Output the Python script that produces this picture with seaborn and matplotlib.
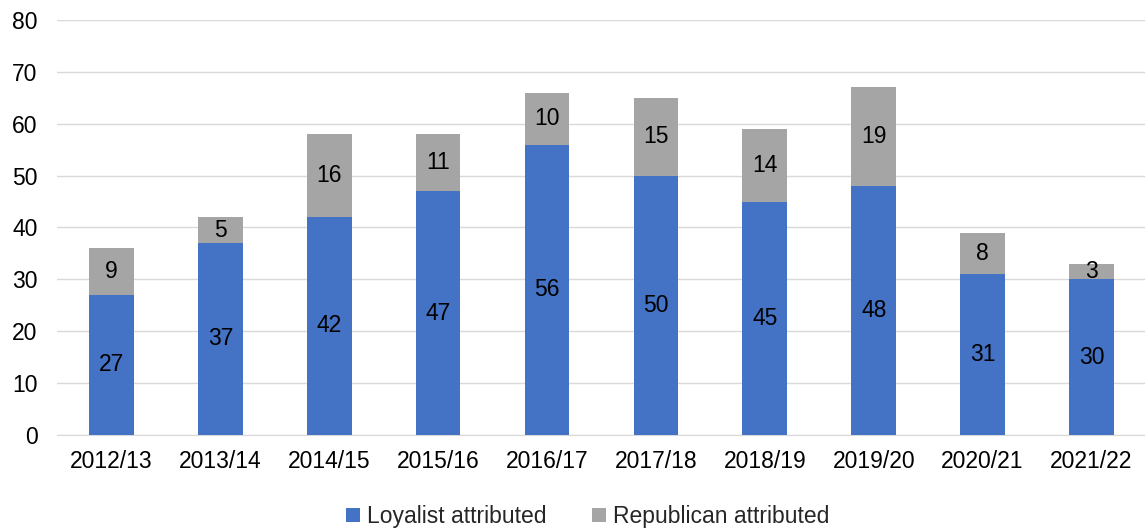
import numpy as np
import pandas as pd
import matplotlib
matplotlib.use("Agg")
import matplotlib.pyplot as plt
import seaborn as sns

years = ["2012/13", "2013/14", "2014/15", "2015/16", "2016/17",
         "2017/18", "2018/19", "2019/20", "2020/21", "2021/22"]
loyalist = [27, 37, 42, 47, 56, 50, 45, 48, 31, 30]
republican = [9, 5, 16, 11, 10, 15, 14, 19, 8, 3]

blue = "#4472C4"
grey = "#A5A5A5"

df = pd.DataFrame({"year": years, "loyalist": loyalist, "republican": republican})
df["total"] = df["loyalist"] + df["republican"]

sns.set_style("white")
plt.rcParams["font.family"] = ["Liberation Sans", "DejaVu Sans"]
fs = 16.5

fig = plt.figure(figsize=(11.45, 5.29), dpi=100)
ax = fig.add_axes([0.0498, 0.178, 0.951, 0.784])

sns.barplot(data=df, x="year", y="total", color=grey, width=0.41,
            saturation=1, ax=ax, label="Republican attributed", zorder=2,
            linewidth=0)
sns.barplot(data=df, x="year", y="loyalist", color=blue, width=0.41,
            saturation=1, ax=ax, label="Loyalist attributed", zorder=3,
            linewidth=0)

grey_bars = ax.containers[0]
blue_bars = ax.containers[1]
ax.bar_label(blue_bars, labels=[str(v) for v in loyalist], label_type="center",
             fontsize=fs, color="black")
for rect, r, l in zip(grey_bars, republican, loyalist):
    ax.text(rect.get_x() + rect.get_width() / 2, l + r / 2, str(r),
            ha="center", va="center", fontsize=fs, color="black", zorder=4)

ax.set_ylim(0, 80)
ax.set_xlim(-0.5, 9.5)
ax.set_yticks(np.arange(0, 81, 10))
ax.yaxis.grid(True, color="#D9D9D9", linewidth=1, zorder=0)
ax.set_axisbelow(True)
ax.set_xlabel("")
ax.set_ylabel("")
for s in ["top", "right", "left"]:
    ax.spines[s].set_visible(False)
ax.spines["bottom"].set_color("#D9D9D9")
ax.tick_params(axis="both", length=0, labelsize=fs, colors="black")
ax.tick_params(axis="x", pad=11)
ax.tick_params(axis="y", pad=14)

handles, labels = ax.get_legend_handles_labels()
order = [labels.index("Loyalist attributed"), labels.index("Republican attributed")]
ax.legend([handles[i] for i in order], [labels[i] for i in order],
          loc="center", bbox_to_anchor=(0.4876, -0.197), ncol=2,
          frameon=False, fontsize=fs, handlelength=0.6, handleheight=0.6,
          handletextpad=0.3, columnspacing=2.0, borderpad=0)

fig.savefig("out.png", dpi=100)
